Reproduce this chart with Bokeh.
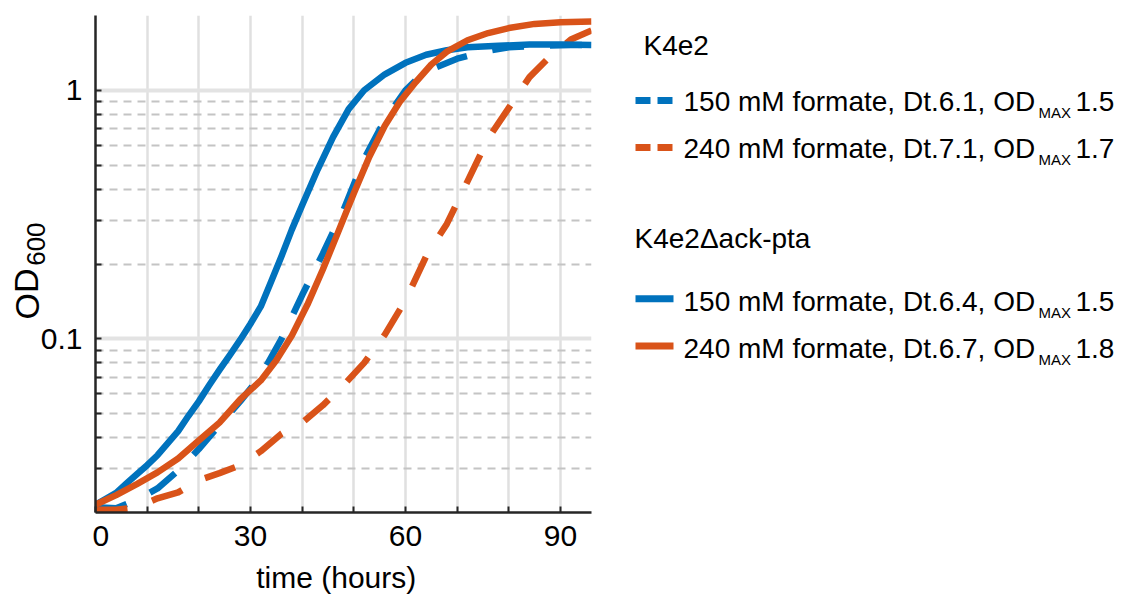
from bokeh.plotting import figure
from bokeh.models import Range1d, FixedTicker
from bokeh.layouts import row, column
from bokeh.embed import file_html
from bokeh.resources import INLINE
from bokeh.core.properties import value

# ---------------- data ----------------
# K4e2, 150 mM formate (dashed blue)
t_k150 = [0, 4, 8, 12, 16, 20, 24, 28, 32, 36, 40, 44, 48, 52, 56, 60, 63, 66, 70, 75, 80, 86, 92, 96]
od_k150 = [0.021, 0.0208, 0.0225, 0.025, 0.0295, 0.036, 0.045, 0.056, 0.071, 0.100, 0.150, 0.220,
           0.330, 0.530, 0.760, 1.00, 1.15, 1.24, 1.34, 1.43, 1.49, 1.51, 1.52, 1.52]

# K4e2, 240 mM formate (dashed orange)
t_k240 = [0, 4, 8, 12, 16, 20, 24, 28, 32, 36, 40, 44, 48, 52, 56, 60, 64, 68, 72, 76, 80, 84, 88, 92, 96]
od_k240 = [0.0205, 0.0205, 0.021, 0.0228, 0.0241, 0.027, 0.0288, 0.031, 0.0353, 0.0415, 0.046, 0.054,
           0.065, 0.080, 0.104, 0.143, 0.215, 0.29, 0.43, 0.64, 0.85, 1.13, 1.37, 1.60, 1.74]

# K4e2 delta ack-pta, 150 mM formate (solid blue)
t_d150 = [0, 2, 4, 6, 8, 10, 12, 14, 16, 18, 20, 22, 24, 26, 28, 30, 32, 34, 36, 38, 40, 43, 46, 49,
          52, 56, 60, 64, 68, 72, 78, 84, 90, 96]
od_d150 = [0.0215, 0.0227, 0.024, 0.0262, 0.0285, 0.031, 0.034, 0.038, 0.0425, 0.049, 0.056, 0.065,
           0.075, 0.086, 0.099, 0.115, 0.135, 0.17, 0.215, 0.275, 0.345, 0.48, 0.65, 0.84,
           1.0, 1.16, 1.29, 1.39, 1.45, 1.49, 1.51, 1.53, 1.53, 1.52]

# K4e2 delta ack-pta, 240 mM formate (solid orange)
t_d240 = [0, 4, 8, 12, 16, 20, 24, 28, 32, 35, 38, 41, 44, 47, 50, 53, 56, 59, 62, 65, 68, 72, 76, 80, 85, 90, 96]
od_d240 = [0.0215, 0.0235, 0.026, 0.029, 0.033, 0.039, 0.046, 0.057, 0.068, 0.082, 0.103, 0.137, 0.19,
           0.27, 0.385, 0.54, 0.72, 0.905, 1.08, 1.27, 1.43, 1.59, 1.70, 1.78, 1.85, 1.88, 1.89]

x_major = [0, 30, 60, 90]
x_minor = [10, 20, 40, 50, 70, 80]
y_major = [0.1, 1]
y_major_labels = ["0.1", "1"]
y_minor = [0.03, 0.04, 0.05, 0.06, 0.07, 0.08, 0.09, 0.2, 0.3, 0.4, 0.5, 0.6, 0.7, 0.8, 0.9]

x_label = "time (hours)"
y_label_main = "OD"
y_label_sub = "600"

group_titles = ["K4e2", "K4e2\u0394ack-pta"]
entry_texts = ["150 mM formate, Dt.6.1, OD", "240 mM formate, Dt.7.1, OD",
               "150 mM formate, Dt.6.4, OD", "240 mM formate, Dt.6.7, OD"]
entry_sub = ["MAX", "MAX", "MAX", "MAX"]
entry_vals = ["1.5", "1.7", "1.5", "1.8"]

BLUE = "#0072BD"
ORANGE = "#D95319"
FONT = "Liberation Sans"
AX = "#262626"
H = 594
X_RANGE = (0, 96)
Y_RANGE = (0.02, 2)
TOP, FRAME_H, FRAME_W = 15, 497, 496
BOTTOM = 47
LEFT, RIGHT = 3, 7


def blank(fig):
    fig.outline_line_color = None
    fig.grid.visible = False
    fig.background_fill_color = "white"
    fig.border_fill_color = "white"
    return fig


# ---------------- y-axis label strip (tick labels + OD600) ----------------
ylab = blank(figure(frame_width=92, frame_height=FRAME_H, x_range=Range1d(0, 92),
                    y_range=Range1d(*Y_RANGE), y_axis_type="log", output_backend="svg",
                    toolbar_location=None, x_axis_location=None, y_axis_location=None,
                    min_border_left=0, min_border_right=0, min_border_top=TOP,
                    min_border_bottom=H - TOP - FRAME_H))
ylab.text(x=[82] * len(y_major), y=y_major, text=y_major_labels, text_font=value(FONT),
          text_font_size=value("30px"), text_baseline="middle", text_align="right", text_color="#000000")
ylab.text(x=[26], y=[0.1514], text=[y_label_main], angle=1.5708, text_font=value(FONT),
          text_font_size=value("34px"), text_baseline="middle", text_align="center", text_color="#000000")
ylab.text(x=[35.5], y=[0.2404], text=[y_label_sub], angle=1.5708, text_font=value(FONT),
          text_font_size=value("26px"), text_baseline="middle", text_align="center", text_color="#000000")

# ---------------- main plot ----------------
p = figure(frame_width=FRAME_W, frame_height=FRAME_H, x_range=Range1d(*X_RANGE), y_range=Range1d(*Y_RANGE),
           y_axis_type="log", output_backend="svg", toolbar_location=None,
           min_border_left=LEFT, min_border_right=RIGHT, min_border_top=TOP, min_border_bottom=BOTTOM)
p.outline_line_color = None
p.background_fill_color = "white"
p.border_fill_color = "white"

p.xaxis.ticker = FixedTicker(ticks=x_major, minor_ticks=x_minor)
p.yaxis.ticker = FixedTicker(ticks=y_major, minor_ticks=y_minor)
p.xgrid.ticker = p.xaxis.ticker
p.ygrid.ticker = p.yaxis.ticker

for ax in (p.xaxis, p.yaxis):
    ax.axis_line_color = AX
    ax.axis_line_width = 2.5
    ax.major_tick_line_color = AX
    ax.minor_tick_line_color = AX
    ax.major_tick_line_width = 2
    ax.minor_tick_line_width = 2
    ax.major_tick_in = 6
    ax.major_tick_out = 0
    ax.minor_tick_in = 6
    ax.minor_tick_out = 0
    ax.major_label_text_font = FONT
    ax.major_label_text_color = "#000000"
p.xaxis.major_label_text_font_size = "30px"
p.xaxis.major_label_standoff = 13
# y tick labels are drawn in the strip on the left
p.yaxis.major_label_text_font_size = "1px"
p.yaxis.major_label_text_alpha = 0
p.yaxis.major_label_standoff = 0

p.xgrid.grid_line_color = "#E0E0E0"
p.xgrid.grid_line_width = 2.5
p.xgrid.minor_grid_line_color = "#E0E0E0"
p.xgrid.minor_grid_line_width = 2.5
p.ygrid.grid_line_color = "#E3E3E3"
p.ygrid.grid_line_width = 4
p.ygrid.minor_grid_line_color = "#C4C4C4"
p.ygrid.minor_grid_line_width = 2
p.ygrid.minor_grid_line_dash = "8 6"

DASH = "32 26"
LW = 6.5
p.line(t_k150, od_k150, line_color=BLUE, line_width=LW, line_dash=DASH, line_join="round")
p.line(t_k240, od_k240, line_color=ORANGE, line_width=LW, line_dash=DASH, line_join="round")
p.line(t_d150, od_d150, line_color=BLUE, line_width=LW, line_join="round")
p.line(t_d240, od_d240, line_color=ORANGE, line_width=LW, line_join="round")

# ---------------- x-axis label strip (same horizontal frame as the plot) ----------------
XLAB_H = H - (TOP + FRAME_H + BOTTOM)
xlab = blank(figure(frame_width=FRAME_W, frame_height=XLAB_H, x_range=Range1d(*X_RANGE),
                    y_range=Range1d(XLAB_H, 0), output_backend="svg", toolbar_location=None,
                    x_axis_location=None, y_axis_location=None, min_border_left=LEFT,
                    min_border_right=RIGHT, min_border_top=0, min_border_bottom=0))
xlab.text(x=[46.6], y=[XLAB_H / 2], text=[x_label], text_font=value(FONT), text_font_size=value("30px"),
          text_baseline="middle", text_align="center", text_color="#000000")

# ---------------- legend panel (frame aligned with the plot frame; y in page pixels) ----------------
leg = blank(figure(frame_width=544, frame_height=FRAME_H, x_range=Range1d(0, 544),
                   y_range=Range1d(TOP + FRAME_H, TOP), output_backend="svg", toolbar_location=None,
                   x_axis_location=None, y_axis_location=None, min_border_left=0, min_border_right=0,
                   min_border_top=TOP, min_border_bottom=H - TOP - FRAME_H))

leg.text(x=[45, 36], y=[45, 238], text=group_titles, text_font=value(FONT), text_font_size=value("28px"),
         text_baseline="middle", text_align="left", text_color="#000000")

row_mid = [101.2, 147.5, 300.8, 347.5]
row_line = [100, 147, 298.3, 345.5]
colors = [BLUE, ORANGE, BLUE, ORANGE]
dashes = ["15 7", "15 7", "solid", "solid"]
leg.text(x=[85] * 4, y=row_mid, text=entry_texts, text_font=value(FONT), text_font_size=value("28px"),
         text_baseline="middle", text_align="left", text_color="#000000")
leg.text(x=[440] * 4, y=[m + 11 for m in row_mid], text=entry_sub, text_font=value(FONT),
         text_font_size=value("15px"), text_baseline="middle", text_align="left", text_color="#000000")
leg.text(x=[477] * 4, y=row_mid, text=entry_vals, text_font=value(FONT), text_font_size=value("28px"),
         text_baseline="middle", text_align="left", text_color="#000000")
for yl, c, d in zip(row_line, colors, dashes):
    leg.line([37, 75], [yl, yl], line_color=c, line_width=7, line_dash=d, line_cap="butt")

layout = row(ylab, column(p, xlab), leg)
open("out.html", "w").write(file_html(layout, INLINE))
